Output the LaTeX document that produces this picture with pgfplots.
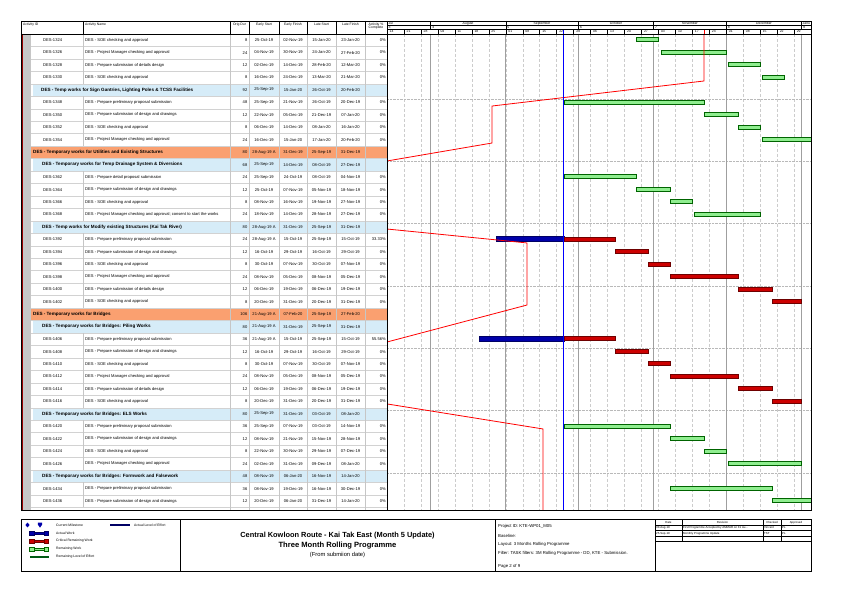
\documentclass[border=0pt]{standalone}
\usepackage{pgfplots}
\pgfplotsset{compat=1.18}
\usepackage{fontspec}
\setmainfont{Liberation Sans}

\definecolor{grfill}{RGB}{144,238,144}
\definecolor{grdraw}{RGB}{0,100,0}
\definecolor{rdfill}{RGB}{204,0,0}
\definecolor{rddraw}{RGB}{110,0,0}
\definecolor{blfill}{RGB}{0,0,170}
\definecolor{bldraw}{RGB}{0,0,100}
\definecolor{orangerow}{RGB}{250,160,112}
\definecolor{bluerow}{RGB}{214,236,248}
\definecolor{loe}{RGB}{0,90,20}

\newcommand{\gbar}[4]{\addplot[#4] coordinates {(#1,#3.30) (#2,#3.30) (#2,#3.62) (#1,#3.62)} -- cycle;}
\newcommand{\bbar}[4]{\addplot[#4] coordinates {(#1,#3.27) (#2,#3.27) (#2,#3.65) (#1,#3.65)} -- cycle;}
\newcommand{\tf}{\fontsize{4.1}{5}\selectfont}
\newcommand{\tfb}{\fontsize{4.6}{5}\selectfont\bfseries}
\newcommand{\hf}{\fontsize{3.4}{3.8}\selectfont}
\newcommand{\legbar}[3]{%
  \filldraw[fill=#2,draw=#3,line width=0.4pt] (31,#1-0.9) rectangle (47,#1+0.9);
  \filldraw[fill=#2,draw=#3,line width=0.4pt] (29.5,#1-2.2) rectangle (34,#1+2.2);
  \filldraw[fill=#2,draw=#3,line width=0.4pt] (44,#1-2.2) rectangle (48.5,#1+2.2);}

\begin{document}
\begin{tikzpicture}
% ---------------- table (pixel coordinates, y down) ----------------
\begin{scope}[x=1pt,y=-1pt,shift={(0pt,607pt)}]
\path (0,0) rectangle (859,607);
% left band
\fill[gray!45] (21,33.9) rectangle (31,510.7);
\draw[red!60!black,line width=0.4pt] (22,33.9) -- (22,510.7);
% group row backgrounds
\foreach \k in {4,10,15,23,30,35}
  \fill[bluerow] (32.5,33.9+12.46*\k) rectangle (387,33.9+12.46*\k+12.46);
\foreach \k in {9,22}
  \fill[orangerow] (31,33.9+12.46*\k) rectangle (387,33.9+12.46*\k+12.46);
% row separators
\foreach \k in {1,...,38}
  \draw[gray!35,line width=0.3pt] (31,33.9+12.46*\k) -- (387,33.9+12.46*\k);
% column separators
\foreach \x in {230,249,279,307,336,365}
  \draw[gray!45,line width=0.3pt] (\x,33.9) -- (\x,510.7);
\foreach \k in {0,1,2,3,5,6,7,8,11,12,13,14,16,17,18,19,20,21,24,25,26,27,28,29,31,32,33,34,36,37}
  \draw[gray!45,line width=0.3pt] (83,33.9+12.46*\k) -- (83,33.9+12.46*\k+12.46);
% activity rows
\foreach \k/\id/\nm/\du/\es/\ef/\ls/\lf/\pc in {
0/DES-1324/DES - SOE checking and approval/8/25-Oct-19/02-Nov-19/15-Jan-20/23-Jan-20/0\%,
1/DES-1326/DES - Project Manager checking and approval/24/04-Nov-19/30-Nov-19/24-Jan-20/27-Feb-20/0\%,
2/DES-1328/DES - Prepare submission of details design/12/02-Dec-19/14-Dec-19/28-Feb-20/12-Mar-20/0\%,
3/DES-1330/DES - SOE checking and approval/8/16-Dec-19/24-Dec-19/13-Mar-20/21-Mar-20/0\%,
5/DES-1348/DES - Prepare preliminary proposal submission/48/25-Sep-19/21-Nov-19/26-Oct-19/20-Dec-19/0\%,
6/DES-1350/DES - Prepare submission of design and drawings/12/22-Nov-19/05-Dec-19/21-Dec-19/07-Jan-20/0\%,
7/DES-1352/DES - SOE checking and approval/8/06-Dec-19/14-Dec-19/08-Jan-20/16-Jan-20/0\%,
8/DES-1354/DES - Project Manager checking and approval/24/16-Dec-19/15-Jan-20/17-Jan-20/20-Feb-20/0\%,
11/DES-1362/DES - Prepare detail proposal submission/24/25-Sep-19/24-Oct-19/08-Oct-19/04-Nov-19/0\%,
12/DES-1364/DES - Prepare submission of design and drawings/12/25-Oct-19/07-Nov-19/05-Nov-19/18-Nov-19/0\%,
13/DES-1366/DES - SOE checking and approval/8/08-Nov-19/16-Nov-19/19-Nov-19/27-Nov-19/0\%,
14/DES-1368/DES - Project Manager checking and approval; consent to start the works/24/18-Nov-19/14-Dec-19/28-Nov-19/27-Dec-19/0\%,
16/DES-1392/DES - Prepare preliminary proposal submission/24/28-Aug-19 A/15-Oct-19/25-Sep-19/15-Oct-19/33.33\%,
17/DES-1394/DES - Prepare submission of design and drawings/12/16-Oct-19/29-Oct-19/16-Oct-19/29-Oct-19/0\%,
18/DES-1396/DES - SOE checking and approval/8/30-Oct-19/07-Nov-19/30-Oct-19/07-Nov-19/0\%,
19/DES-1398/DES - Project Manager checking and approval/24/08-Nov-19/05-Dec-19/08-Nov-19/05-Dec-19/0\%,
20/DES-1400/DES - Prepare submission of details design/12/06-Dec-19/19-Dec-19/06-Dec-19/19-Dec-19/0\%,
21/DES-1402/DES - SOE checking and approval/8/20-Dec-19/31-Dec-19/20-Dec-19/31-Dec-19/0\%,
24/DES-1406/DES - Prepare preliminary proposal submission/36/21-Aug-19 A/15-Oct-19/25-Sep-19/15-Oct-19/55.56\%,
25/DES-1408/DES - Prepare submission of design and drawings/12/16-Oct-19/29-Oct-19/16-Oct-19/29-Oct-19/0\%,
26/DES-1410/DES - SOE checking and approval/8/30-Oct-19/07-Nov-19/30-Oct-19/07-Nov-19/0\%,
27/DES-1412/DES - Project Manager checking and approval/24/08-Nov-19/05-Dec-19/08-Nov-19/05-Dec-19/0\%,
28/DES-1414/DES - Prepare submission of details design/12/06-Dec-19/19-Dec-19/06-Dec-19/19-Dec-19/0\%,
29/DES-1416/DES - SOE checking and approval/8/20-Dec-19/31-Dec-19/20-Dec-19/31-Dec-19/0\%,
31/DES-1420/DES - Prepare preliminary proposal submission/36/25-Sep-19/07-Nov-19/03-Oct-19/14-Nov-19/0\%,
32/DES-1422/DES - Prepare submission of design and drawings/12/08-Nov-19/21-Nov-19/15-Nov-19/28-Nov-19/0\%,
33/DES-1424/DES - SOE checking and approval/8/22-Nov-19/30-Nov-19/29-Nov-19/07-Dec-19/0\%,
34/DES-1426/DES - Project Manager checking and approval/24/02-Dec-19/31-Dec-19/09-Dec-19/08-Jan-20/0\%,
36/DES-1434/DES - Prepare preliminary proposal submission/36/08-Nov-19/19-Dec-19/16-Nov-19/30-Dec-19/0\%,
37/DES-1436/DES - Prepare submission of design and drawings/12/20-Dec-19/06-Jan-20/31-Dec-19/14-Jan-20/0\%}
{
  \node[anchor=west,inner sep=0,font=\tf] at (43,40.13+12.46*\k) {\id};
  \node[anchor=west,inner sep=0,font=\tf] at (85,40.13+12.46*\k) {\nm};
  \node[anchor=east,inner sep=0,font=\tf] at (247.5,40.13+12.46*\k) {\du};
  \node[inner sep=0,font=\tf] at (264,40.13+12.46*\k) {\es};
  \node[inner sep=0,font=\tf] at (293,40.13+12.46*\k) {\ef};
  \node[inner sep=0,font=\tf] at (321.5,40.13+12.46*\k) {\ls};
  \node[inner sep=0,font=\tf] at (350.5,40.13+12.46*\k) {\lf};
  \node[anchor=east,inner sep=0,font=\tf] at (386,40.13+12.46*\k) {\pc};
}
% group rows
\foreach \k/\xo/\nm/\du/\es/\ef/\ls/\lf in {
4/41/{DES - Temp works for Sign Gantries, Lighting Poles \& TCSS Facilities}/92/25-Sep-19/15-Jan-20/26-Oct-19/20-Feb-20,
9/33/{DES - Temporary works for Utilities and Existing Structures}/80/28-Aug-19 A/31-Dec-19/25-Sep-19/31-Dec-19,
10/42/{DES - Temporary works for Temp Drainage System \& Diversions}/68/25-Sep-19/14-Dec-19/08-Oct-19/27-Dec-19,
15/42/{DES - Temp works for Modify existing Structures (Kai Tak River)}/80/28-Aug-19 A/31-Dec-19/25-Sep-19/31-Dec-19,
22/33/{DES - Temporary works for Bridges}/106/21-Aug-19 A/07-Feb-20/25-Sep-19/27-Feb-20,
23/42/{DES - Temporary works for Bridges: Piling Works}/80/21-Aug-19 A/31-Dec-19/25-Sep-19/31-Dec-19,
30/42/{DES - Temporary works for Bridges: ELS Works}/80/25-Sep-19/31-Dec-19/03-Oct-19/08-Jan-20,
35/42/{DES - Temporary works for Bridges: Formwork and Falsework}/48/08-Nov-19/06-Jan-20/16-Nov-19/14-Jan-20}
{
  \node[anchor=west,inner sep=0,font=\tfb] at (\xo,40.13+12.46*\k) {\nm};
  \node[anchor=east,inner sep=0,font=\tf] at (247.5,40.13+12.46*\k) {\du};
  \node[inner sep=0,font=\tf] at (264,40.13+12.46*\k) {\es};
  \node[inner sep=0,font=\tf] at (293,40.13+12.46*\k) {\ef};
  \node[inner sep=0,font=\tf] at (321.5,40.13+12.46*\k) {\ls};
  \node[inner sep=0,font=\tf] at (350.5,40.13+12.46*\k) {\lf};
}
% table header
\node[anchor=north west,inner sep=0,font=\hf] at (23,23) {Activity ID};
\node[anchor=north west,inner sep=0,font=\hf] at (85,23) {Activity Name};
\node[anchor=north,inner sep=0,font=\hf] at (239.5,23) {Orig Dur};
\node[anchor=north,inner sep=0,font=\hf] at (264,23) {Early Start};
\node[anchor=north,inner sep=0,font=\hf] at (293,23) {Early Finish};
\node[anchor=north,inner sep=0,font=\hf] at (321.5,23) {Late Start};
\node[anchor=north,inner sep=0,font=\hf] at (350.5,23) {Late Finish};
\node[anchor=north,inner sep=0,font=\hf,align=center] at (376,22.5) {Activity \%\\Complete};
% gantt header
\foreach \lab/\xx in {August/468,September/542,October/616,November/690,December/764}
  \node[inner sep=0,font=\hf] at (\xx,23.2) {\lab};
\node[anchor=west,inner sep=0,font=\hf] at (388.5,23.2) {Jul};
\node[anchor=west,inner sep=0,font=\hf] at (802.5,23.2) {Janu};
\foreach \lab/\xx in {3/387,4/430.6,5/505.7,6/578.4,7/653.5,8/726.2,9/801.3}
  \node[anchor=west,inner sep=0,font=\hf] at (\xx+1.5,27.5) {\lab};
\foreach \i/\lab in {0/14,1/21,2/28,3/04,4/11,5/18,6/25,7/01,8/08,9/15,10/22,11/29,12/06,13/13,14/20,15/27,16/03,17/10,18/17,19/24,20/01,21/08,22/15,23/22,24/29}
{
  \draw[line width=0.3pt] (387+16.96*\i,29.6) -- (387+16.96*\i,33.9);
  \node[anchor=west,inner sep=0,font=\hf] at (387+16.96*\i+2.5,31.8) {\lab};
}
\foreach \xx in {430.6,505.7,578.4,653.5,726.2,801.3}
  \draw[line width=0.4pt] (\xx,21) -- (\xx,29.6);
\draw[line width=0.4pt] (387,25.3) -- (811,25.3);
\draw[line width=0.4pt] (387,29.6) -- (811,29.6);
\foreach \x in {83,230,249,279,307,336,365}
  \draw[line width=0.4pt] (\x,21) -- (\x,33.9);
% data date and progress line marks in the week row
\draw[blue,line width=1pt] (563.9,29.8) -- (563.9,33.9);
\draw[red,line width=0.8pt] (704,29.8) -- (704,33.9);

% ---------------- title block ----------------
\draw[line width=0.7pt] (21,519.5) rectangle (811,571.5);
\foreach \x in {180,495,655}
  \draw[line width=0.5pt] (\x,519.5) -- (\x,571.5);
% legend
\fill[blfill] (27.5,522.6) -- (29.6,525) -- (27.5,527.4) -- (25.4,525) -- cycle;
\fill[blfill] (37.8,522.6) -- (42.2,522.6) -- (42.2,524.6) -- (40,527.6) -- (37.8,524.6) -- cycle;
\legbar{533}{blfill}{bldraw}
\legbar{541}{rdfill}{rddraw}
\legbar{549}{grfill}{grdraw}
\fill[loe] (29.5,555.8) rectangle (48.5,558.2);
\fill[bldraw] (110,523.8) rectangle (130,526.2);
\foreach \lab/\yy in {Current Milestone/525,Actual Work/533,Critical Remaining Work/541,Remaining Work/549,Remaining Level of Effort/557}
  \node[anchor=west,inner sep=0,font=\hf] at (56,\yy) {\lab};
\node[anchor=west,inner sep=0,font=\hf] at (134,525) {Actual Level of Effort};
% title
\node[inner sep=0,font=\fontsize{7.4}{8}\selectfont\bfseries] at (337.5,535.5) {Central Kowloon Route - Kai Tak East (Month 5 Update)};
\node[inner sep=0,font=\fontsize{7.6}{8}\selectfont\bfseries] at (337.5,546) {Three Month Rolling Programme};
\node[inner sep=0,font=\fontsize{5.8}{7}\selectfont] at (337.5,555.5) {(From submiion date)};
% project info
\foreach \lab/\yy in {Project ID: KTE-WP01\_M05/526.5,Baseline:/535.5,Layout: 3 Months Rolling Programme/544.5,{Filter: TASK filters: 3M Rolling Programme - DD, KTE - Submission.}/553,Page 2 of 9/566}
  \node[anchor=west,inner sep=0,font=\fontsize{4.3}{5}\selectfont] at (498,\yy) {\lab};
% revision table
\foreach \yy in {525,530.5,536,541.5}
  \draw[line width=0.4pt] (655,\yy) -- (811,\yy);
\foreach \x in {682,763,781}
  \draw[line width=0.4pt] (\x,519.5) -- (\x,541.5);
\node[inner sep=0,font=\fontsize{2.9}{3}\selectfont] at (668.5,522.3) {Date};
\node[inner sep=0,font=\fontsize{2.9}{3}\selectfont] at (722.5,522.3) {Revision};
\node[inner sep=0,font=\fontsize{2.9}{3}\selectfont] at (772,522.3) {Checked};
\node[inner sep=0,font=\fontsize{2.9}{3}\selectfont] at (796,522.3) {Approved};
\node[anchor=west,inner sep=0,font=\fontsize{2.9}{3}\selectfont] at (656,527.8) {30-Aug-19};
\node[anchor=west,inner sep=0,font=\fontsize{2.9}{3}\selectfont] at (683,527.8) {First Programme Accepted by AMMAR on 31 Au...};
\node[anchor=west,inner sep=0,font=\fontsize{2.9}{3}\selectfont] at (764,527.8) {Vincent};
\node[anchor=west,inner sep=0,font=\fontsize{2.9}{3}\selectfont] at (782,527.8) {PL};
\node[anchor=west,inner sep=0,font=\fontsize{2.9}{3}\selectfont] at (656,533.3) {25-Sep-19};
\node[anchor=west,inner sep=0,font=\fontsize{2.9}{3}\selectfont] at (683,533.3) {Monthly Programme Update};
\node[anchor=west,inner sep=0,font=\fontsize{2.9}{3}\selectfont] at (764,533.3) {TST};
\node[anchor=west,inner sep=0,font=\fontsize{2.9}{3}\selectfont] at (782,533.3) {PL};
\end{scope}

% ---------------- Gantt axis ----------------
\begin{axis}[
  at={(387pt,96.3pt)}, anchor=south west,
  scale only axis, width=424pt, height=476.8pt,
  xmin=13, xmax=188, ymin=0, ymax=38.27, y dir=reverse,
  axis line style={draw=none},
  xtick={13,20,...,181},
  ytick={5.22,10.22,15.22,20.22,25.22,30.22,35.22},
  xticklabels={}, yticklabels={},
  major tick length=0pt,
  xmajorgrids, ymajorgrids,
  every axis x grid/.style={gray!40, densely dashed, line width=0.35pt},
  every axis y grid/.style={gray!55, densely dotted, line width=0.4pt},
  extra x ticks={31,62,92,123,153,184},
  extra x tick labels={},
  extra x tick style={every axis x grid/.style={gray!75, solid, line width=0.6pt}},
  greenbar/.style={fill=grfill, draw=grdraw, line width=0.5pt},
  redbar/.style={fill=rdfill, draw=rddraw, line width=0.5pt},
  bluebar/.style={fill=blfill, draw=bldraw, line width=0.5pt},
]
% remaining work (green)
\gbar{116}{125}{0}{greenbar}
\gbar{126}{153}{1}{greenbar}
\gbar{154}{167}{2}{greenbar}
\gbar{168}{177}{3}{greenbar}
\gbar{86}{144}{5}{greenbar}
\gbar{144}{158}{6}{greenbar}
\gbar{158}{167}{7}{greenbar}
\gbar{168}{199}{8}{greenbar}
\gbar{86}{116}{11}{greenbar}
\gbar{116}{130}{12}{greenbar}
\gbar{130}{139}{13}{greenbar}
\gbar{140}{167}{14}{greenbar}
\gbar{86}{130}{31}{greenbar}
\gbar{130}{144}{32}{greenbar}
\gbar{144}{153}{33}{greenbar}
\gbar{154}{184}{34}{greenbar}
\gbar{130}{172}{36}{greenbar}
\gbar{172}{189}{37}{greenbar}
% actual work (blue)
\bbar{58}{86}{16}{bluebar}
\bbar{51}{86}{24}{bluebar}
% critical remaining work (red)
\gbar{86}{107}{16}{redbar}
\gbar{107}{121}{17}{redbar}
\gbar{121}{130}{18}{redbar}
\gbar{130}{158}{19}{redbar}
\gbar{158}{172}{20}{redbar}
\gbar{172}{184}{21}{redbar}
\gbar{86}{107}{24}{redbar}
\gbar{107}{121}{25}{redbar}
\gbar{121}{130}{26}{redbar}
\gbar{130}{158}{27}{redbar}
\gbar{158}{172}{28}{redbar}
\gbar{172}{184}{29}{redbar}
% progress line
\addplot[red, line width=0.8pt] coordinates {(143.8,0) (143.8,3.78) (56.3,5.79) (56.3,8.76) (13,10.2)};
\addplot[red, line width=0.8pt] coordinates {(13,15.66) (70.8,16.78) (70.8,21.76) (13,24.73)};
\addplot[red, line width=0.8pt] coordinates {(13,29.7) (77.4,31.71) (77.4,38.27)};
% data date
\addplot[blue, line width=1pt] coordinates {(86,0) (86,38.27)};
\end{axis}

% ---------------- frame ----------------
\begin{scope}[x=1pt,y=-1pt,shift={(0pt,607pt)}]
\draw[line width=0.8pt] (21,21) rectangle (811,510.7);
\draw[line width=0.6pt] (21,33.9) -- (811,33.9);
\draw[line width=0.6pt] (387,21) -- (387,510.7);
\end{scope}
\end{tikzpicture}
\end{document}
